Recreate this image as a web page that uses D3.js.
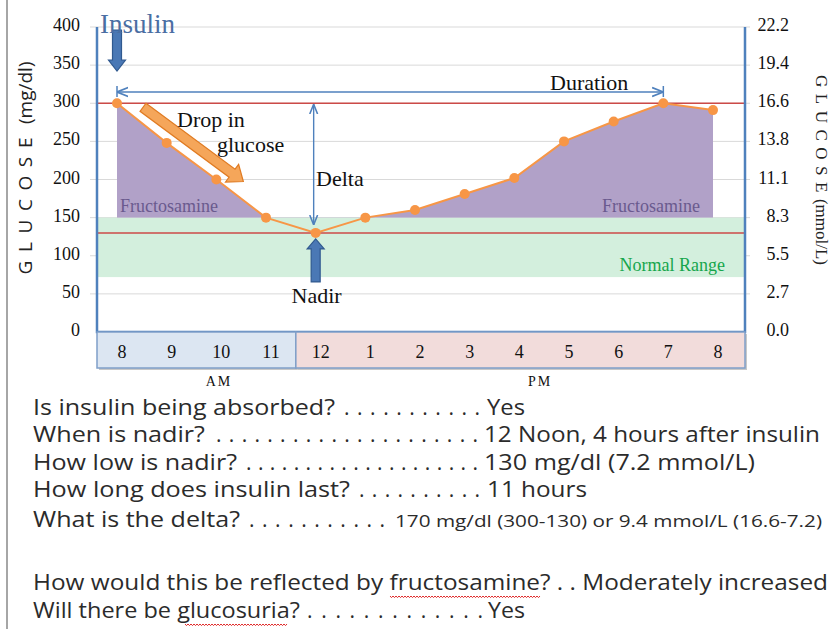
<!DOCTYPE html>
<html><head><meta charset="utf-8">
<script src="https://cdn.jsdelivr.net/npm/d3@7"></script>
<style>body{margin:0;background:#fff}svg{display:block}</style>
</head><body>
<svg id="c" width="835" height="629"></svg>
<script>
// ---------- data ----------
const times = ["8","9","10","11","12","1","2","3","4","5","6","7","8"];
const glucose = [300,248,200,150,130,150,160,181,202,250,276,300,291];
const leftTicks = [0,50,100,150,200,250,300,350,400];
const rightTickLabels = ["0.0","2.7","5.5","8.3","11.1","13.8","16.6","19.4","22.2"];
const normalRange = [72,150];
const fructoThreshold = 150;
const peakValue = 300, nadirValue = 130;
const insulinIndex = 0, nadirIndex = 4, durationEndIndex = 11;
const periodLabels = ["AM","PM"];
const periodSplit = 4; // first PM index
const questions = ["Is insulin being absorbed?","When is nadir?","How low is nadir?","How long does insulin last?","What is the delta?","How would this be reflected by fructosamine? . . Moderately increased","Will there be glucosuria?"];
const dotCounts = [11,21,20,10,11,0,13];
const answers = ["Yes","12 Noon, 4 hours after insulin","130 mg/dl (7.2 mmol/L)","11 hours","170 mg/dl (300-130) or 9.4 mmol/L (16.6-7.2)","","Yes"];

// ---------- layout ----------
const W=835,H=629;
const L=97,R=745,T=27,B=332;
const svg=d3.select("#c");
const serif="'Liberation Serif','Times New Roman',serif";
const sans="'Open Sans','Liberation Sans',sans-serif";
const x=d3.scalePoint().domain(d3.range(times.length)).range([117,713]);
const y=d3.scaleLinear().domain([0,400]).range([B,T]);

svg.append("rect").attr("width",W).attr("height",H).attr("fill","#fff");
// slide border line
svg.append("line").attr("x1",7).attr("x2",7).attr("y1",0).attr("y2",H).attr("stroke","#a6a6a6").attr("stroke-width",2);

// gridlines
svg.append("g").selectAll("line").data(leftTicks.filter(d=>d>0)).join("line")
  .attr("x1",90).attr("x2",750).attr("y1",d=>y(d)).attr("y2",d=>y(d))
  .attr("stroke","#d9d9d9").attr("stroke-width",1);

// normal range band
svg.append("rect").attr("x",L).attr("width",R-L)
  .attr("y",y(normalRange[1])).attr("height",y(normalRange[0])-y(normalRange[1]))
  .attr("fill","#d3efdd");

// fructosamine area (above threshold)
svg.append("clipPath").attr("id","above").append("rect")
  .attr("x",0).attr("y",0).attr("width",W).attr("height",y(fructoThreshold));
const area=d3.area().x((d,i)=>x(i)).y0(y(fructoThreshold)).y1(d=>y(d));
svg.append("path").datum(glucose).attr("d",area).attr("fill","#b1a1c8").attr("clip-path","url(#above)");

// red reference lines
[peakValue,nadirValue].forEach(v=>{
  svg.append("line").attr("x1",L).attr("x2",R).attr("y1",y(v)).attr("y2",y(v))
    .attr("stroke","#cc4a47").attr("stroke-width",1.5);
});

// labels inside plot
svg.append("text").attr("x",120).attr("y",y(fructoThreshold)-6).text("Fructosamine")
  .attr("font-family",serif).attr("font-size",18).attr("fill","#6a5a8e");
svg.append("text").attr("x",x(times.length-1)-13).attr("y",y(fructoThreshold)-6).attr("text-anchor","end").text("Fructosamine")
  .attr("font-family",serif).attr("font-size",18).attr("fill","#6a5a8e");
svg.append("text").attr("x",725).attr("y",y(normalRange[0])-6).attr("text-anchor","end").text("Normal Range")
  .attr("font-family",serif).attr("font-size",18).attr("fill","#16a64c");

// glucose line
svg.append("path").datum(glucose).attr("d",d3.line().x((d,i)=>x(i)).y(d=>y(d)))
  .attr("fill","none").attr("stroke","#f79646").attr("stroke-width",2);
svg.append("g").selectAll("circle").data(glucose).join("circle")
  .attr("cx",(d,i)=>x(i)).attr("cy",d=>y(d)).attr("r",5).attr("fill","#f79646");

// frame
svg.append("path").attr("d",`M${L},${T}V${B}H${R}V${T}`).attr("fill","none")
  .attr("stroke","#4f81bd").attr("stroke-width",2.5);

// x-axis boxes
const lab=i=>x(i)+5;
const split=(lab(periodSplit-1)+lab(periodSplit))/2;
const boxes=[{x0:L,x1:split,fill:"#dce6f2"},{x0:split,x1:R,fill:"#f2dcdb"}];
svg.append("g").selectAll("rect.sh").data(boxes).join("rect")
  .attr("x",d=>d.x0+2).attr("y",B+2).attr("width",d=>d.x1-d.x0).attr("height",36).attr("fill","#c8c8c8");
svg.append("g").selectAll("rect.bx").data(boxes).join("rect")
  .attr("x",d=>d.x0).attr("y",B).attr("width",d=>d.x1-d.x0).attr("height",36)
  .attr("fill",d=>d.fill).attr("stroke","#7f9fc9").attr("stroke-width",1.5);
svg.append("g").selectAll("text").data(times).join("text")
  .attr("x",(d,i)=>lab(i)).attr("y",B+26).attr("text-anchor","middle").text(d=>d)
  .attr("font-family",serif).attr("font-size",18).attr("fill","#111");
svg.append("g").selectAll("text").data(periodLabels).join("text")
  .attr("x",(d,i)=>i===0?219:540).attr("y",386).attr("text-anchor","middle").text(d=>d)
  .attr("font-family",serif).attr("font-size",14).attr("letter-spacing",2).attr("fill","#111");

// y axes
svg.append("g").selectAll("text").data(leftTicks).join("text")
  .attr("x",80).attr("y",d=>y(d)+4).attr("text-anchor","end").text(d=>d)
  .attr("font-family",serif).attr("font-size",18).attr("fill","#111");
svg.append("g").selectAll("text").data(rightTickLabels).join("text")
  .attr("x",789).attr("y",(d,i)=>y(leftTicks[i])+4).attr("text-anchor","end").text(d=>d)
  .attr("font-family",serif).attr("font-size",18).attr("fill","#111");
// axis titles: letter-spaced "GLUCOSE" fitted to a target length
function axisTitle(cx,cy,rot,font,size,unit,target){
  const t=svg.append("text").attr("transform",`translate(${cx},${cy}) rotate(${rot})`).attr("text-anchor","middle")
    .attr("font-family",font).attr("font-size",size).attr("fill","#222");
  const g=t.append("tspan").text("GLUCOSE");
  t.append("tspan").text(unit);
  const base=t.node().getComputedTextLength();
  g.attr("letter-spacing",Math.max(0,(target-base)/7));
}
axisTitle(32,168,-90,sans,19," (mg/dl)",213);
axisTitle(816,170,90,serif,17,"(mmol/L)",190);

// block arrow helper
function blockArrow(x1,y1,x2,y2,w,hw,hl,fill,stroke){
  const len=Math.hypot(x2-x1,y2-y1), ang=Math.atan2(y2-y1,x2-x1)*180/Math.PI;
  const p=[[0,-w/2],[len-hl,-w/2],[len-hl,-hw/2],[len,0],[len-hl,hw/2],[len-hl,w/2],[0,w/2]];
  svg.append("polygon").attr("points",p.map(d=>d.join(",")).join(" "))
    .attr("transform",`translate(${x1},${y1}) rotate(${ang})`)
    .attr("fill",fill).attr("stroke",stroke).attr("stroke-width",1.2);
}
// insulin
const xi=x(insulinIndex);
blockArrow(xi,30,xi,71,9,17,11,"#4a78b5","#30598f");
svg.append("text").attr("x",100).attr("y",33).text("Insulin")
  .attr("font-family",serif).attr("font-size",27).attr("fill","#4a6ea3");
// nadir
const xn=x(nadirIndex);
blockArrow(xn,y(nadirValue)+49,xn,y(nadirValue)+6,9,17,10,"#4a78b5","#30598f");
svg.append("text").attr("x",xn+1).attr("y",y(nadirValue)+70).attr("text-anchor","middle").text("Nadir")
  .attr("font-family",serif).attr("font-size",22).attr("fill","#111");
// drop in glucose
blockArrow(x(0)+26,y(peakValue)+4,x(2)+27,y(glucose[2])+2,10,22,14,"#f5a65a","#e07b22");
svg.append("text").attr("x",177).attr("y",127).text("Drop in").attr("font-family",serif).attr("font-size",22).attr("fill","#111");
svg.append("text").attr("x",217).attr("y",152).text("glucose").attr("font-family",serif).attr("font-size",22).attr("fill","#111");

// thin blue dimension arrows
const blue="#4f81bd";
const defs=svg.append("defs");
defs.append("marker").attr("id","ah").attr("viewBox","0 0 10 10").attr("refX",10).attr("refY",5)
  .attr("markerWidth",7).attr("markerHeight",7).attr("orient","auto-start-reverse")
  .append("path").attr("d","M0,1L10,5L0,9").attr("fill","none").attr("stroke",blue).attr("stroke-width",1.6);
const yd=92;
svg.append("line").attr("x1",x(0)).attr("x2",x(durationEndIndex)).attr("y1",yd).attr("y2",yd)
  .attr("stroke",blue).attr("stroke-width",1.6).attr("marker-start","url(#ah)").attr("marker-end","url(#ah)");
[x(0),x(durationEndIndex)].forEach(v=>svg.append("line").attr("x1",v).attr("x2",v).attr("y1",yd-6).attr("y2",yd+5).attr("stroke",blue).attr("stroke-width",1.5));
svg.append("text").attr("x",550).attr("y",90).text("Duration").attr("font-family",serif).attr("font-size",22).attr("fill","#111");
const xdl=xn-2;
svg.append("line").attr("x1",xdl).attr("x2",xdl).attr("y1",y(peakValue)+1).attr("y2",y(nadirValue)-8)
  .attr("stroke",blue).attr("stroke-width",1.4).attr("marker-start","url(#ah)").attr("marker-end","url(#ah)");
svg.append("text").attr("x",316).attr("y",186).text("Delta").attr("font-family",serif).attr("font-size",22).attr("fill","#111");

// ---------- text block ----------
const tf="'Liberation Sans Narrow','Open Sans',sans-serif";
const rows=[
 {y:415,q:[33,335],d:[344,480],a:[487,525],as:21},
 {y:442,q:[33,205],d:[216,478],a:[484,820],as:21},
 {y:470,q:[33,237],d:[246,478],a:[484,755],as:21},
 {y:497,q:[33,350],d:[359,480],a:[487,587],as:21},
 {y:527,q:[33,240],d:[249,385],a:[395,822],as:17},
 {y:590,q:[33,828]},
 {y:618,q:[33,300],d:[307,483],a:[488,525],as:21}
];
const tg=svg.append("g").attr("fill","#2b2b2b");
rows.forEach((r,i)=>{
  tg.append("text").attr("x",r.q[0]).attr("y",r.y).attr("font-family",tf).attr("font-size",21)
    .attr("textLength",r.q[1]-r.q[0]).attr("lengthAdjust","spacingAndGlyphs").text(questions[i]);
  if(dotCounts[i]>0){
    tg.append("text").attr("x",r.d[0]).attr("y",r.y).attr("font-family",tf).attr("font-size",21)
      .attr("textLength",r.d[1]-r.d[0]).attr("lengthAdjust","spacing").text(".".repeat(dotCounts[i]));
  }
  if(answers[i]){
    tg.append("text").attr("x",r.a[0]).attr("y",r.y).attr("font-family",tf).attr("font-size",r.as)
      .attr("textLength",r.a[1]-r.a[0]).attr("lengthAdjust","spacingAndGlyphs").text(answers[i]);
  }
});
// spell-check squiggles
function squiggle(x0,x1,yy){
  let d=`M${x0},${yy}`;
  for(let xx=x0+1.5,k=0;xx<=x1;xx+=1.5,k++) d+=`L${xx},${yy+(k%2?0:1.6)}`;
  svg.append("path").attr("d",d).attr("fill","none").attr("stroke","#e02a2a").attr("stroke-width",1);
}
squiggle(390,540,596);
squiggle(185,287,624);
</script>
</body></html>
